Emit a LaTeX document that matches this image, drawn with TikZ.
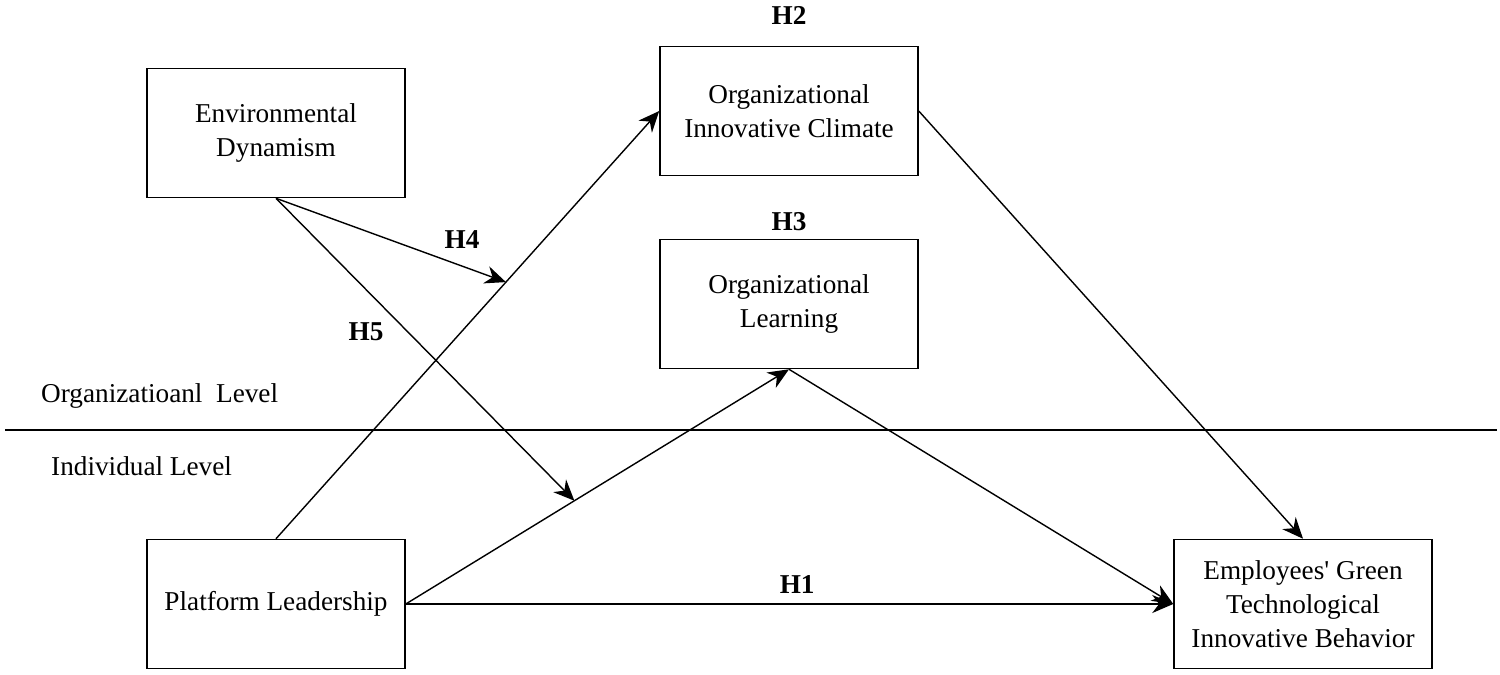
\documentclass[tikz,border=0pt]{standalone}
\usepackage{fontspec}
\setmainfont{Liberation Serif}
\usetikzlibrary{arrows.meta,positioning,calc}

\begin{document}
\begin{tikzpicture}[x=0.02cm, y=-0.02cm,
  box/.style={draw, line width=0.9pt, minimum width=5.16cm, minimum height=2.58cm, align=center, font=\fontsize{15.5}{19.5}\selectfont},
  link/.style={-{Stealth[length=4.2mm, width=3.6mm]}, line width=0.8pt},
  hyp/.style={font=\fontsize{15.5}{19.5}\selectfont\bfseries},
  lvl/.style={anchor=west, font=\fontsize{15.5}{19.5}\selectfont}]
  \useasboundingbox (0,0) rectangle (1500,674);
  % boxes
  \node[box] (ED) at (276,133) {Environmental\\Dynamism};
  \node[box] (OIC) at (789,111) {Organizational\\Innovative Climate};
  \node[box] (OL) at (789,304) {Organizational\\Learning};
  \node[box] (PL) at (276,604) {Platform Leadership};
  \node[box] (EG) at (1303,604) {Employees\textquotesingle{} Green\\Technological\\Innovative Behavior};
  % levels
  \draw[line width=0.8pt] (5,430) coordinate (sepL) -- (1497,430) coordinate (sepR);
  \node[lvl] (orglvl) at (35,396) {Organizatioanl\ \ Level};
  \node[lvl] (indlvl) at (45,466) {Individual Level};
  % hypothesis labels
  \node[hyp] (H2) at (789,15) {H2};
  \node[hyp] (H3) at (789,222) {H3};
  \node[hyp] (H4) at (462,240) {H4};
  \node[hyp] (H5) at (366,332) {H5};
  % paths
  \draw[link] (PL.north) -- (OIC.west);
  \draw[link] (PL.east) -- (OL.south);
  \draw[link] (OIC.east) -- (EG.north);
  \draw[link] (OL.south) -- (EG.west);
  \draw[link] (PL.east) -- (EG.west) node[hyp, pos=0.51, above=2pt] (H1) {H1};
  \coordinate (mod4) at ($(PL.north)!0.6!(OIC.west)$);
  \coordinate (mod5) at ($(PL.east)!0.44!(OL.south)$);
  \draw[link] (ED.south) -- (mod4);
  \draw[link] (ED.south) -- (mod5);
\end{tikzpicture}
\end{document}
